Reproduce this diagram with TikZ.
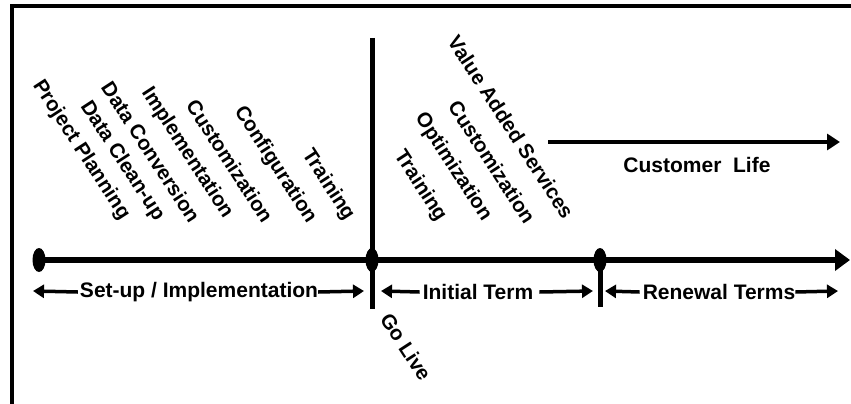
\documentclass[tikz,border=0pt]{standalone}
\usepackage{fontspec}
\setmainfont{Liberation Sans}
\usetikzlibrary{arrows.meta,shapes.geometric}
\begin{document}
\begin{tikzpicture}[x=1pt,y=-1pt,
  lbl/.style={font=\fontsize{21}{22}\selectfont\bfseries, inner sep=0pt},
  rlbl/.style={font=\fontsize{20.5}{21}\selectfont\bfseries, inner sep=0pt, rotate=-57},
  dot/.style={ellipse, fill=black, minimum width=13pt, minimum height=24pt, inner sep=0pt},
  tick/.style={line width=5pt},
  frame/.style={line width=4pt},
  sarrow/.style={line width=3.5pt, -{Triangle[length=11pt,width=13pt]}},
  bigarrow/.style={line width=6pt, -{Triangle[length=15pt,width=21pt]}},
  midarrow/.style={line width=4pt, -{Triangle[length=13pt,width=16pt]}}
]
\useasboundingbox (0,0) rectangle (851,404);
% frame
\coordinate (fr1) at (860,6);
\coordinate (fr2) at (12,6);
\coordinate (fr3) at (12,410);
\draw[frame] (fr1) -- (fr2) -- (fr3);

% vertical markers
\coordinate (v1t) at (372,38);
\coordinate (v1b) at (372,309);
\draw[tick] (v1t) -- (v1b);
\coordinate (v2b) at (600,307);

% main timeline
\node[dot] (e1) at (39,260) {};
\node[dot] (e2) at (372,260) {};
\node[dot] (e3) at (600,260) {};
\coordinate (mtip) at (850,260);
\draw[tick] (e3.center) -- (v2b);
\draw[bigarrow] (e1.center) -- (mtip);

% bottom labels
\node[lbl] (setup) at (199,292) {Set-up / Implementation};
\coordinate (s1) at (33,291);
\coordinate (s2) at (364,291);
\draw[sarrow] ([xshift=-2pt]setup.west) -- (s1);
\draw[sarrow] (setup.east) -- (s2);

\node[lbl] (init) at (478,292) {Initial Term};
\coordinate (i1) at (381,291);
\coordinate (i2) at (593,291);
\draw[sarrow] ([xshift=-3pt]init.west) -- (i1);
\draw[sarrow] ([xshift=6pt]init.east) -- (i2);

\node[lbl] (ren) at (719,292) {Renewal Terms};
\coordinate (r1) at (605,291);
\coordinate (r2) at (838,291);
\draw[sarrow] ([xshift=-3pt]ren.west) -- (r1);
\draw[sarrow] (ren.east) -- (r2);

% customer life
\coordinate (cl1) at (548,142);
\coordinate (cl2) at (840,142);
\draw[midarrow] (cl1) -- (cl2);
\node[lbl] (cl) at (697,165) {Customer\ \ Life};

% go live
\node[rlbl] (golive) at (406,347) {Go Live};

% left rotated labels
\node[rlbl] (pp) at (81,150) {Project Planning};
\node[rlbl] (dc) at (122,161) {Data Clean-up};
\node[rlbl] (dcv) at (151,152) {Data Conversion};
\node[rlbl] (impl) at (187,153) {Implementation};
\node[rlbl] (cust) at (230,161) {Customization};
\node[rlbl] (conf) at (275,165) {Configuration};
\node[rlbl] (tr) at (328,185) {Training};

% right rotated labels
\node[rlbl] (tr2) at (420,186) {Training};
\node[rlbl] (opt) at (453,167) {Optimization};
\node[rlbl] (cust2) at (492,162) {Customization};
\node[rlbl] (vas) at (511,127) {Value Added Services};
\end{tikzpicture}
\end{document}
